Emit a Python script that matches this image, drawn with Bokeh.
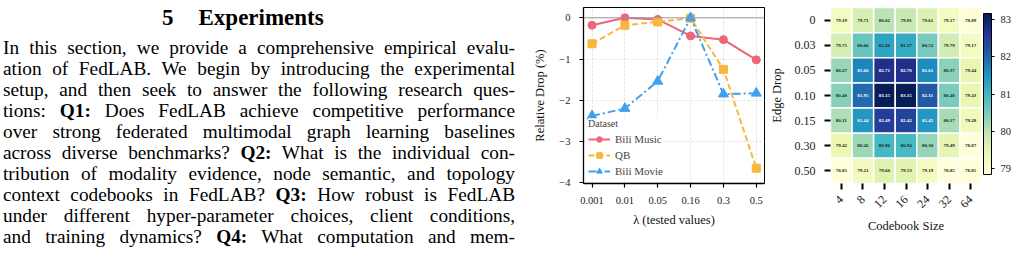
import numpy as np
from bokeh.plotting import figure
from bokeh.layouts import row
from bokeh.models import (Div, Range1d, FixedTicker, CustomJSTickFormatter, Span, Legend,
                          LegendItem, ColumnDataSource, LinearColorMapper, ColorBar, FactorRange)
from bokeh.palettes import YlGnBu9
from bokeh.transform import transform
from bokeh.core.properties import value
from bokeh.embed import file_html
from bokeh.resources import INLINE

SERIF = "'Liberation Serif', serif"

# ---------------- section text ----------------
section_number = "5"
section_title = "Experiments"
paragraph_lines = [
    "In this section, we provide a comprehensive empirical evalu-",
    "ation of FedLAB. We begin by introducing the experimental",
    "setup, and then seek to answer the following research ques-",
    "tions: <b>Q1:</b> Does FedLAB achieve competitive performance",
    "over strong federated multimodal graph learning baselines",
    "across diverse benchmarks? <b>Q2:</b> What is the individual con-",
    "tribution of modality evidence, node semantic, and topology",
    "context codebooks in FedLAB? <b>Q3:</b> How robust is FedLAB",
    "under different hyper-parameter choices, client conditions,",
    "and training dynamics? <b>Q4:</b> What computation and mem-",
]

# ---------------- lambda sensitivity (relative drop, %) ----------------
lambda_values = ["0.001", "0.01", "0.05", "0.16", "0.3", "0.5"]
bili_music = [-0.18, 0.0, -0.04, -0.44, -0.53, -1.02]
qb = [-0.63, -0.18, -0.10, -0.01, -1.25, -3.65]
bili_movie = [-2.38, -2.20, -1.54, 0.0, -1.85, -1.83]

# ---------------- codebook size x edge drop ----------------
codebook_sizes = ["4", "8", "12", "16", "24", "32", "64"]
edge_drops = ["0", "0.03", "0.05", "0.10", "0.15", "0.30", "0.50"]
accuracy = [
    [79.19, 79.71, 80.02, 79.91, 79.61, 79.17, 78.89],
    [79.75, 80.66, 81.26, 81.17, 80.52, 79.79, 79.17],
    [80.27, 81.66, 82.71, 82.70, 81.61, 80.37, 79.44],
    [80.40, 81.95, 83.15, 83.15, 82.11, 80.48, 79.43],
    [80.11, 81.44, 82.49, 82.42, 81.45, 80.17, 79.28],
    [79.42, 80.26, 80.96, 80.94, 80.30, 79.49, 78.87],
    [78.85, 79.21, 79.60, 79.53, 79.19, 78.85, 78.85],
]
colorbar_ticks = [79, 80, 81, 82, 83]

RED, ORANGE, BLUE = "#ee6677", "#f6b73c", "#3fa0f0"

# ---------------- text column ----------------
body = "<br>".join(paragraph_lines)
html = (
    '<div style="font-family:\'Liberation Serif\',serif;color:#000;">'
    '<div style="font-weight:bold;font-size:23px;line-height:23px;height:23px;'
    f'margin-top:6px;padding-left:162px;white-space:nowrap;">{section_number}'
    f'<span style="display:inline-block;width:25px;"></span>{section_title}</div>'
    '<div style="margin-top:8px;margin-left:3px;width:512px;font-size:19.3px;line-height:21px;'
    f'text-align:justify;text-align-last:justify;">{body}</div>'
    '</div>'
)
text_col = Div(text=html, width=530, height=260, margin=(0, 0, 0, 0))

# ---------------- line chart ----------------
x_idx = list(range(len(lambda_values)))
p1 = figure(width=236, height=260, x_range=Range1d(-0.26, 5.25), y_range=Range1d(-4.02, 0.25),
            output_backend="svg", toolbar_location=None, margin=(0, 0, 0, 0),
            min_border_left=52, min_border_right=2, min_border_top=7, min_border_bottom=77)
p1.background_fill_color = "white"
p1.border_fill_color = "white"
p1.outline_line_color = "black"
p1.outline_line_width = 1

for g in (p1.xgrid, p1.ygrid):
    g.grid_line_color = "#d4d4d4"
    g.grid_line_dash = "2 2"
    g.grid_line_width = 0.8
p1.xgrid.ticker = FixedTicker(ticks=x_idx)
p1.ygrid.ticker = FixedTicker(ticks=[-4, -3, -2, -1, 0])

p1.add_layout(Span(location=0, dimension="width", line_color="#9a9a9a", line_width=1))

p1.xaxis.ticker = FixedTicker(ticks=x_idx)
p1.xaxis.major_label_overrides = {i: lab for i, lab in enumerate(lambda_values)}
p1.yaxis.ticker = FixedTicker(ticks=[-4, -3, -2, -1, 0])
p1.yaxis.formatter = CustomJSTickFormatter(
    code="return tick < 0 ? '\\u2212' + Math.abs(tick) : String(tick);")
for ax in (p1.xaxis[0], p1.yaxis[0]):
    ax.axis_line_color = "black"
    ax.axis_line_width = 1.3
    ax.major_tick_out = 4
    ax.major_tick_in = 0
    ax.major_tick_line_width = 1.2
    ax.minor_tick_out = 0
    ax.minor_tick_in = 0
    ax.major_label_text_font = SERIF
    ax.major_label_text_font_size = "10.5px"
    ax.major_label_text_color = "#222"
    ax.major_label_standoff = 9
    ax.axis_label_text_font = SERIF
    ax.axis_label_text_font_size = "12.5px"
    ax.axis_label_text_font_style = "normal"
    ax.axis_label_text_color = "#111"
p1.xaxis.axis_label = "λ (tested values)"
p1.xaxis.axis_label_standoff = 6
p1.yaxis.axis_label = "Relative Drop (%)"
p1.yaxis.axis_label_standoff = 9

l1 = p1.line(x_idx, bili_music, line_color=RED, line_width=2)
m1 = p1.scatter(x_idx, bili_music, marker="circle", size=8, fill_color=RED, line_color=RED)
l2 = p1.line(x_idx, qb, line_color=ORANGE, line_width=2, line_dash="6 3")
m2 = p1.scatter(x_idx, qb, marker="square", size=8, fill_color=ORANGE, line_color=ORANGE)
l3 = p1.line(x_idx, bili_movie, line_color=BLUE, line_width=2, line_dash="8 3 2 3")
m3 = p1.scatter(x_idx, bili_movie, marker="triangle", size=10, fill_color=BLUE, line_color=BLUE)

legend = Legend(items=[LegendItem(label="Bili Music", renderers=[l1, m1]),
                       LegendItem(label="QB", renderers=[l2, m2]),
                       LegendItem(label="Bili Movie", renderers=[l3, m3])],
                title="Dataset", location="bottom_left")
legend.title_text_font = SERIF
legend.title_text_font_size = "10px"
legend.title_text_font_style = "normal"
legend.title_standoff = 3
legend.label_text_font = SERIF
legend.label_text_font_size = "11px"
legend.glyph_width = 22
legend.glyph_height = 14
legend.label_height = 14
legend.spacing = 2
legend.padding = 4
legend.margin = 5
legend.border_line_color = None
legend.background_fill_alpha = 0.8
p1.add_layout(legend)

# ---------------- heatmap ----------------
base = list(reversed(YlGnBu9))
rgb = np.array([[int(c[i:i + 2], 16) for i in (1, 3, 5)] for c in base], float)
t = np.linspace(0, 1, 256)
pos = np.linspace(0, 1, len(base))
cols = np.stack([np.interp(t, pos, rgb[:, k]) for k in range(3)], axis=1)
ylgnbu = ["#%02x%02x%02x" % tuple(int(round(v)) for v in c) for c in cols]

vals = np.array(accuracy)
vmin, vmax = float(vals.min()), float(vals.max())
mid = vmin + 0.58 * (vmax - vmin)
cb, ed, vv, lab, tc = [], [], [], [], []
for i, e in enumerate(edge_drops):
    for j, c in enumerate(codebook_sizes):
        cb.append(c)
        ed.append(e)
        vv.append(accuracy[i][j])
        lab.append(f"{accuracy[i][j]:.2f}")
        tc.append("white" if accuracy[i][j] > mid else "#222222")
src = ColumnDataSource(dict(cb=cb, ed=ed, val=vv, label=lab, tc=tc))
mapper = LinearColorMapper(palette=ylgnbu, low=vmin, high=vmax)

p2 = figure(width=253, height=260, x_range=FactorRange(*codebook_sizes),
            y_range=FactorRange(*reversed(edge_drops)),
            output_backend="svg", toolbar_location=None, margin=(0, 0, 0, 0),
            min_border_left=52, min_border_right=38, min_border_top=7, min_border_bottom=77)
p2.background_fill_color = "white"
p2.border_fill_color = "white"
p2.outline_line_color = None
p2.xgrid.visible = False
p2.ygrid.visible = False
p2.rect(x="cb", y="ed", width=1, height=1, source=src,
        fill_color=transform("val", mapper), line_color="white", line_width=1.5)
p2.text(x="cb", y="ed", text="label", source=src, text_align="center", text_baseline="middle",
        text_font=value(SERIF), text_font_size="5px", text_font_style="bold", text_color="tc")

for ax in (p2.xaxis[0], p2.yaxis[0]):
    ax.axis_line_color = None
    ax.major_tick_out = 6
    ax.major_tick_in = 0
    ax.major_tick_line_width = 2
    ax.major_tick_line_color = "black"
    ax.major_label_text_font = SERIF
    ax.major_label_text_font_size = "12px"
    ax.major_label_text_color = "#222"
    ax.axis_label_text_font = SERIF
    ax.axis_label_text_font_size = "12.5px"
    ax.axis_label_text_font_style = "normal"
    ax.axis_label_text_color = "#111"
p2.xaxis.major_label_orientation = np.pi / 4
p2.xaxis.major_label_standoff = 8
p2.xaxis.axis_label = "Codebook Size"
p2.xaxis.axis_label_standoff = 4
p2.yaxis.major_label_standoff = 9
p2.yaxis.axis_label = "Edge Drop"
p2.yaxis.axis_label_standoff = 8

color_bar = ColorBar(color_mapper=mapper, ticker=FixedTicker(ticks=colorbar_ticks),
                     width=8, height=161, location=(2, 9), padding=0, margin=0,
                     bar_line_color="black", bar_line_width=1,
                     major_tick_out=3, major_tick_in=0, major_tick_line_color="black",
                     minor_tick_line_color=None,
                     major_label_text_font=SERIF, major_label_text_font_size="10.5px",
                     major_label_text_color="#222", label_standoff=6,
                     background_fill_color=None, border_line_color=None)
p2.add_layout(color_bar, "right")

layout = row(text_col, p1, p2, spacing=0)
open("out.html", "w").write(file_html(layout, INLINE))
